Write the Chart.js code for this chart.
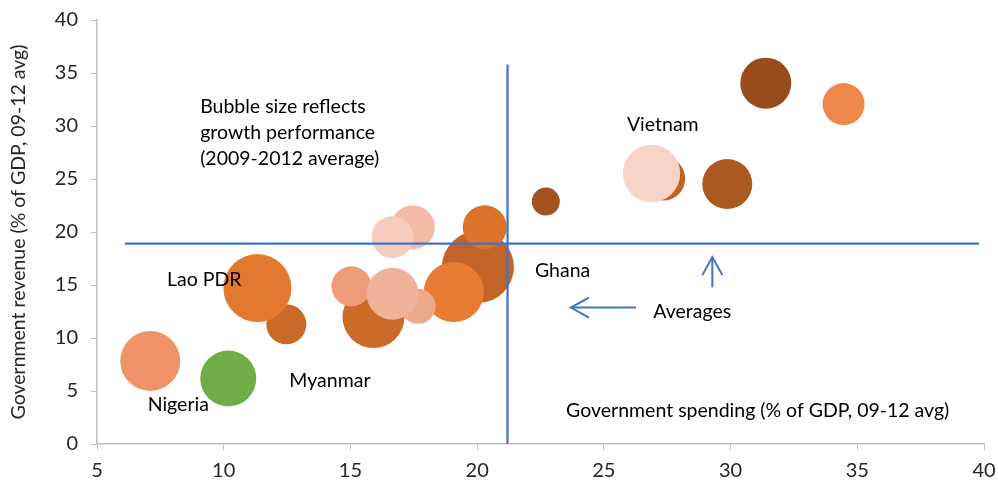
<!DOCTYPE html>
<html>
<head>
<meta charset="utf-8">
<title>Government revenue vs spending</title>
<script src="https://cdn.jsdelivr.net/npm/chart.js@4.4.1/dist/chart.umd.min.js"></script>
<style>
  html, body { margin: 0; padding: 0; background: #ffffff; }
  #wrap { width: 998px; height: 483px; }
</style>
</head>
<body>
<div id="wrap"><canvas id="chart" width="998" height="483"></canvas></div>
<script>
// Government spending and revenue, % of GDP (2009-12 averages), one bubble per economy.
// Listed in drawing order: later entries sit on top of earlier ones.
const spending = [7.10, 10.18, 12.47, 11.33, 15.91, 15.04, 20.03, 19.08, 17.67, 16.66, 17.46, 16.66, 20.30, 22.71, 27.34, 26.88, 29.87, 31.39, 34.46];
const revenue  = [7.84,  6.18, 11.29, 14.71, 11.98, 14.87, 16.69, 14.34, 12.99, 14.18, 20.45, 19.51, 20.45, 22.87, 25.04, 25.51, 24.53, 34.04, 32.07];
// Real GDP growth, 2009-2012 average (%); bubble area follows this value
const growth   = [6.25,  5.44,  2.78,  8.03,  6.67,  2.78,  9.00,  6.25,  2.13,  4.69,  3.36,  3.06,  3.36,  1.36,  3.36,  5.72,  4.34,  4.52,  3.06];
const bubbleColors = ['#F0936A', '#70AD47', '#C96A29', '#E2792F', '#CC6A28', '#EE9C79', '#C26427', '#E97C33', '#EEA98C', '#F1B29B',
                      '#F3BBA6', '#F6CCBC', '#DD7328', '#A1521F', '#C3621F', '#F6D4C8', '#AD5922', '#974C1E', '#EF8748'];

// Sample averages shown as reference lines
const avgSpending = 21.2;
const avgRevenue = 18.9;
const avgSpendingLineSpan = [0, 35.8];
const avgRevenueLineSpan = [6.1, 39.8];

const xTicks = [5, 10, 15, 20, 25, 30, 35, 40];
const yTicks = [0, 5, 10, 15, 20, 25, 30, 35, 40];

// Text notes placed in data coordinates (left edge, vertical middle)
const notes = [
  { text: 'Bubble size reflects', x: 9.07, y: 31.81 },
  { text: 'growth performance', x: 9.07, y: 29.36 },
  { text: '(2009-2012 average)', x: 9.07, y: 26.92 },
  { text: 'Vietnam', x: 25.91, y: 30.12 },
  { text: 'Ghana', x: 22.28, y: 16.38 },
  { text: 'Averages', x: 26.95, y: 12.52 },
  { text: 'Government spending (% of GDP, 09-12 avg)', x: 23.51, y: 3.11 },
  { text: 'Lao PDR', x: 7.76, y: 15.53 },
  { text: 'Myanmar', x: 12.59, y: 5.93 },
  { text: 'Nigeria', x: 7.00, y: 3.67 }
];

// Arrows pointing from the "Averages" note to the two reference lines
const arrows = [
  { from: [26.27, 12.87], to: [23.70, 12.87] },
  { from: [29.28, 14.78], to: [29.28, 17.63] }
];

const BLUE = '#4472C4';
const FONT = 'Lato, "Liberation Sans", sans-serif';
const TEXT_SIZE = 20;
const NOTE_SIZE = 19.5;
const SIZE_SCALE = 12; // radius in px per sqrt(growth)

const bubbles = spending.map((x, i) => ({ x, y: revenue[i], r: SIZE_SCALE * Math.sqrt(growth[i]) }));

const notesPlugin = {
  id: 'notes',
  afterDatasetsDraw(chart) {
    const { ctx, scales: { x, y } } = chart;
    ctx.save();
    // arrows
    ctx.strokeStyle = BLUE;
    ctx.lineWidth = 2;
    ctx.lineCap = 'butt';
    ctx.lineJoin = 'miter';
    arrows.forEach(a => {
      const x0 = x.getPixelForValue(a.from[0]), y0 = y.getPixelForValue(a.from[1]);
      const x1 = x.getPixelForValue(a.to[0]), y1 = y.getPixelForValue(a.to[1]);
      const ang = Math.atan2(y1 - y0, x1 - x0);
      ctx.beginPath();
      ctx.moveTo(x0, y0);
      ctx.lineTo(x1, y1);
      ctx.stroke();
      const len = 18, half = 10;
      const bx = x1 - len * Math.cos(ang), by = y1 - len * Math.sin(ang);
      const px = -Math.sin(ang) * half, py = Math.cos(ang) * half;
      ctx.beginPath();
      ctx.moveTo(bx + px, by + py);
      ctx.lineTo(x1, y1);
      ctx.lineTo(bx - px, by - py);
      ctx.stroke();
    });
    // text notes
    ctx.fillStyle = '#000000';
    ctx.font = NOTE_SIZE + 'px ' + FONT;
    ctx.textAlign = 'left';
    ctx.textBaseline = 'middle';
    notes.forEach(n => {
      ctx.fillText(n.text, x.getPixelForValue(n.x), y.getPixelForValue(n.y));
    });
    ctx.restore();
  }
};

new Chart(document.getElementById('chart'), {
  data: {
    datasets: [
      {
        type: 'line',
        order: -1,
        data: [{ x: avgSpending, y: avgSpendingLineSpan[0] }, { x: avgSpending, y: avgSpendingLineSpan[1] }],
        borderColor: BLUE,
        borderWidth: 2.25,
        pointRadius: 0,
        fill: false
      },
      {
        type: 'line',
        order: -1,
        data: [{ x: avgRevenueLineSpan[0], y: avgRevenue }, { x: avgRevenueLineSpan[1], y: avgRevenue }],
        borderColor: BLUE,
        borderWidth: 2.25,
        pointRadius: 0,
        fill: false
      },
      {
        type: 'bubble',
        order: 1,
        data: bubbles,
        backgroundColor: bubbleColors,
        borderWidth: 0,
        hoverBorderWidth: 0
      }
    ]
  },
  options: {
    responsive: false,
    devicePixelRatio: 1,
    animation: false,
    events: [],
    clip: false,
    layout: { autoPadding: false, padding: { top: 20, right: 14, bottom: 0, left: 0 } },
    plugins: {
      legend: { display: false },
      tooltip: { enabled: false }
    },
    scales: {
      x: {
        type: 'linear',
        min: 5,
        max: 40,
        afterBuildTicks: s => { s.ticks = xTicks.map(v => ({ value: v })); },
        afterFit: s => { s.height = 39; s.paddingLeft = 0; s.paddingRight = 0; },
        grid: { drawOnChartArea: false, drawTicks: true, tickLength: 6, color: '#BFBFBF' },
        border: { display: true, color: '#BFBFBF', width: 1.5 },
        ticks: { color: '#262626', font: { family: FONT, size: TEXT_SIZE }, padding: 9, maxRotation: 0 }
      },
      y: {
        type: 'linear',
        min: 0,
        max: 40,
        afterBuildTicks: s => { s.ticks = yTicks.map(v => ({ value: v })); },
        afterFit: s => { s.width = 97; s.paddingTop = 0; s.paddingBottom = 0; },
        grid: { drawOnChartArea: false, drawTicks: true, tickLength: 6, color: '#BFBFBF' },
        border: { display: true, color: '#BFBFBF', width: 1.5 },
        ticks: { color: '#262626', font: { family: FONT, size: TEXT_SIZE }, padding: 13 },
        title: {
          display: true,
          text: 'Government revenue (% of GDP, 09-12 avg)',
          color: '#262626',
          font: { family: FONT, size: 19.5 },
          padding: { top: 7, bottom: 0 }
        }
      }
    }
  },
  plugins: [notesPlugin]
});
</script>
</body>
</html>
